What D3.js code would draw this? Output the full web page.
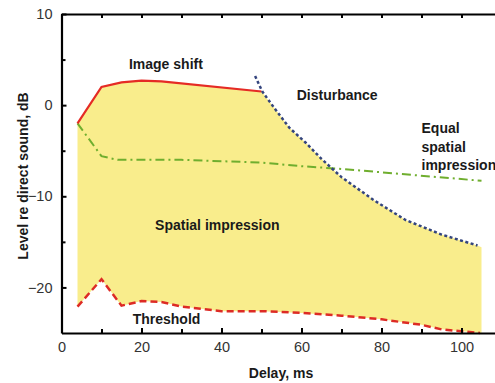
<!DOCTYPE html>
<html>
<head>
<meta charset="utf-8">
<script src="https://cdn.jsdelivr.net/npm/d3@7"></script>
<style>
  body { margin: 0; background: #fff; }
  text { font-family: "Liberation Sans", Arial, sans-serif; }
</style>
</head>
<body>
<svg id="chart" width="495" height="383"></svg>
<script>
// curves: [delay ms, level dB]
const imageShift = [[4, -2], [10, 2], [15, 2.5], [20, 2.7], [25, 2.6], [50, 1.5]];
const disturbance = [[48.4, 3.2], [50.2, 1.5], [53, -0.2], [57, -2.5], [61, -4.1], [65, -5.9], [70, -7.9],
  [78, -10.4], [86, -12.6], [95, -14.2], [104, -15.4]];
const equalSpatial = [[4, -2], [10, -5.6], [14, -6.0], [30, -6.0], [50, -6.3], [60, -6.7],
  [70, -7.0], [105, -8.3]];
const threshold = [[4, -22.1], [10, -19.1], [15, -22.0], [20, -21.5], [25, -21.6], [30, -22.1],
  [40, -22.6], [50, -22.6], [60, -22.8], [70, -23.1], [80, -23.5], [90, -24.1], [95, -24.6], [104.6, -25]];
// yellow region: top edge then back along the threshold
const regionTop = [[4, -2], [10, 2], [15, 2.5], [20, 2.7], [25, 2.6], [50, 1.5], [53, -0.2], [57, -2.5],
  [61, -4.1], [65, -5.9], [70, -7.9], [78, -10.4], [86, -12.6], [95, -14.2], [104, -15.4], [105, -15.6], [105, -25]];

const xMajor = [0, 20, 40, 60, 80, 100];
const xMinor = [10, 30, 50, 70, 90];
const yMajor = [10, 0, -10, -20];
const yMinor = [5, -5, -15];

const notes = [
  { text: 'Image shift', x: 26.1, y: 4.0, anchor: 'middle' },
  { text: 'Disturbance', x: 58.8, y: 0.6, anchor: 'start' },
  { text: 'Equal', x: 90, y: -3.1, anchor: 'start' },
  { text: 'spatial', x: 90, y: -5.1, anchor: 'start' },
  { text: 'impression', x: 90, y: -7.1, anchor: 'start' },
  { text: 'Spatial impression', x: 23.4, y: -13.7, anchor: 'start' },
  { text: 'Threshold', x: 17.8, y: -24.0, anchor: 'start' }
];

const svg = d3.select('#chart');
const x = d3.scaleLinear().domain([0, 108.375]).range([61.5, 495]);
const y = d3.scaleLinear().domain([-25, 10]).range([333, 14]);
const line = d3.line().x(d => x(d[0])).y(d => y(d[1]));

svg.append('path')
  .attr('d', line(regionTop.concat(threshold.slice().reverse())))
  .attr('fill', '#f9ed8c');

svg.append('path').attr('d', line(threshold))
  .attr('fill', 'none').attr('stroke', '#dd2b25').attr('stroke-width', 2.5)
  .attr('stroke-dasharray', '7,4');
svg.append('path').attr('d', line(equalSpatial))
  .attr('fill', 'none').attr('stroke', '#6fae2e').attr('stroke-width', 2)
  .attr('stroke-dasharray', '9,4,2,4');
svg.append('path').attr('d', line(imageShift))
  .attr('fill', 'none').attr('stroke', '#e52b25').attr('stroke-width', 2.2);
svg.append('path').attr('d', line(disturbance))
  .attr('fill', 'none').attr('stroke', '#34457e').attr('stroke-width', 2.5)
  .attr('stroke-dasharray', '3,2.5');

// axes: ticks point inward
function styleAxis(g) {
  g.select('.domain').attr('stroke', '#000').attr('stroke-width', 2.2);
  g.selectAll('.tick line').attr('stroke', '#000').attr('stroke-width', 2);
  g.selectAll('.tick text').attr('fill', '#333').attr('font-size', 14.5)
    .style('font-family', '"Liberation Sans", Arial, sans-serif');
}

const bottomAxis = svg.append('g').attr('transform', `translate(0,${y(-25)})`)
  .call(d3.axisBottom(x).tickValues(xMajor).tickSizeInner(-5).tickSizeOuter(0).tickPadding(9));
bottomAxis.append('g').call(d3.axisBottom(x).tickValues(xMinor).tickSizeInner(-4).tickSizeOuter(0).tickFormat(''))
  .select('.domain').remove();
styleAxis(bottomAxis);

const topAxis = svg.append('g').attr('transform', `translate(0,${y(10)})`)
  .call(d3.axisTop(x).tickValues(xMajor.concat(xMinor)).tickSizeInner(-4).tickSizeOuter(0).tickFormat(''));
styleAxis(topAxis);

const leftAxis = svg.append('g').attr('transform', `translate(${x(0)},0)`)
  .call(d3.axisLeft(y).tickValues(yMajor).tickSizeInner(-5).tickSizeOuter(0).tickPadding(9));
leftAxis.append('g').call(d3.axisLeft(y).tickValues(yMinor).tickSizeInner(-4).tickSizeOuter(0).tickFormat(''))
  .select('.domain').remove();
styleAxis(leftAxis);

svg.append('g').selectAll('text')
  .data(notes)
  .join('text')
  .attr('x', d => x(d.x))
  .attr('y', d => y(d.y))
  .attr('text-anchor', d => d.anchor)
  .attr('font-size', 14)
  .attr('font-weight', 'bold')
  .attr('fill', '#1a1a1a')
  .text(d => d.text);

svg.append('text')
  .attr('x', 281).attr('y', 378)
  .attr('text-anchor', 'middle')
  .attr('font-size', 14).attr('font-weight', 'bold').attr('fill', '#1a1a1a')
  .text('Delay, ms');

svg.append('text')
  .attr('transform', 'translate(28,176) rotate(-90)')
  .attr('text-anchor', 'middle')
  .attr('font-size', 14).attr('font-weight', 'bold').attr('fill', '#1a1a1a')
  .text('Level re direct sound, dB');
</script>
</body>
</html>
